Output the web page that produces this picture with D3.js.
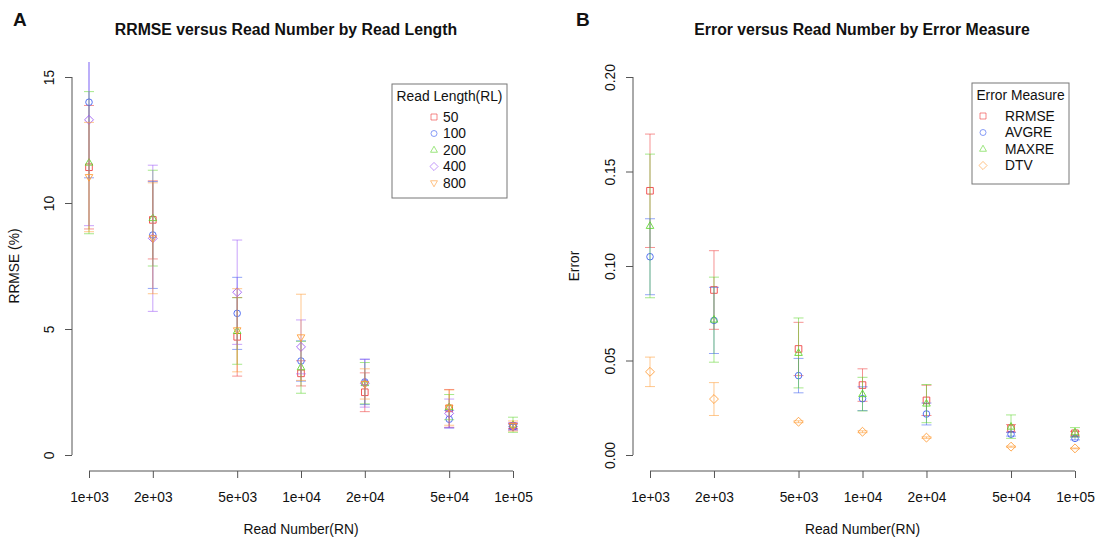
<!DOCTYPE html>
<html lang="en">
<head>
<meta charset="utf-8">
<title>RRMSE and Error versus Read Number</title>
<script src="https://d3js.org/d3.v7.min.js"></script>
<style>
  body { margin: 0; background: #fff; }
  text { font-family: "Liberation Sans", Arial, sans-serif; fill: #111; }
</style>
</head>
<body>
<script>
// x categories shared by both panels
const readNumbers = [1e3, 2e3, 5e3, 1e4, 2e4, 5e4, 1e5];
const xTickLabels = ["1e+03", "2e+03", "5e+03", "1e+04", "2e+04", "5e+04", "1e+05"];

// panel A: RRMSE (%) by read length, mean and sd
const readLengths = ["50", "100", "200", "400", "800"];
const rl50Mean  = [11.42, 9.33, 4.69, 3.24, 2.49, 1.85, 1.15];
const rl50Sd    = [2.45, 1.55, 1.56, 0.50, 0.77, 0.75, 0.10];
const rl100Mean = [14.00, 8.73, 5.62, 3.73, 2.90, 1.42, 1.12];
const rl100Sd   = [3.00, 2.12, 1.43, 0.80, 0.90, 0.35, 0.10];
const rl200Mean = [11.60, 9.40, 4.92, 3.48, 2.85, 1.90, 1.20];
const rl200Sd   = [2.82, 1.90, 1.32, 1.03, 0.82, 0.50, 0.30];
const rl400Mean = [13.30, 8.60, 6.46, 4.29, 2.85, 1.65, 1.13];
const rl400Sd   = [4.20, 2.90, 2.07, 1.07, 0.95, 0.57, 0.15];
const rl800Mean = [11.03, 8.60, 4.95, 4.67, 2.82, 1.88, 1.15];
const rl800Sd   = [2.17, 2.20, 1.65, 1.71, 0.60, 0.70, 0.20];
const yTicksA = [0, 5, 10, 15];

// panel B: error by error measure, mean and sd
const errorMeasures = ["RRMSE", "AVGRE", "MAXRE", "DTV"];
const rrmseMean = [0.1398, 0.0873, 0.0561, 0.0370, 0.0289, 0.0141, 0.0115];
const rrmseSd   = [0.0300, 0.0208, 0.0141, 0.0086, 0.0080, 0.0020, 0.0010];
const avgreMean = [0.1049, 0.0712, 0.0420, 0.0298, 0.0217, 0.0110, 0.0088];
const avgreSd   = [0.0201, 0.0175, 0.0091, 0.0063, 0.0058, 0.0010, 0.0008];
const maxreMean = [0.1212, 0.0716, 0.0540, 0.0322, 0.0272, 0.0150, 0.0120];
const maxreSd   = [0.0380, 0.0225, 0.0185, 0.0089, 0.0101, 0.0062, 0.0025];
const dtvMean   = [0.0440, 0.0296, 0.0176, 0.0123, 0.0092, 0.0044, 0.0035];
const dtvSd     = [0.0078, 0.0087, 0.0005, 0.0005, 0.0004, 0.0003, 0.0002];
const yTicksB = [0, 0.05, 0.10, 0.15, 0.20];

const colors = ["#ee3b3b", "#3a5cf0", "#5cd62c", "#9a55f5", "#ff9a33"];

// R-like plotting symbols (pch 0,1,2,5,6)
const shapes = {
  square: s => `M${-s},${-s}H${s}V${s}H${-s}Z`,
  circle: s => `M${s},0A${s},${s} 0 1,1 ${-s},0A${s},${s} 0 1,1 ${s},0`,
  triUp: s => `M0,${-s * 1.25}L${s * 1.15},${s * 0.75}L${-s * 1.15},${s * 0.75}Z`,
  diamond: s => `M0,${-s * 1.35}L${s * 1.35},0L0,${s * 1.35}L${-s * 1.35},0Z`,
  triDown: s => `M0,${s * 1.25}L${s * 1.15},${-s * 0.75}L${-s * 1.15},${-s * 0.75}Z`
};
const shapeOrder = ["square", "circle", "triUp", "diamond", "triDown"];

const fs = 13.8; // axis / legend text size

const svg = d3.select("body").append("svg")
  .attr("width", 1099).attr("height", 544);

function drawPanel(p) {
  const x = d3.scaleLog().domain([1e3, 1e5]).range(p.xRange);
  const y = d3.scaleLinear().domain(p.yDomain).range([455, 77]);
  const g = svg.append("g");

  // plot region clip (R usr extends 4%)
  const clipId = "clip" + p.id;
  g.append("clipPath").attr("id", clipId).append("rect")
    .attr("x", p.xRange[0] - 17).attr("y", 62)
    .attr("width", p.xRange[1] - p.xRange[0] + 34).attr("height", 408);

  // y axis, labels parallel to the axis as in R
  const yAxis = g.append("g").attr("transform", `translate(${p.xRange[0] - 17},0)`)
    .call(d3.axisLeft(y).tickValues(p.yTicks).tickSize(7).tickFormat(p.yFormat));
  yAxis.select(".domain").attr("d", `M0,${y(p.yDomain[0])}V${y(p.yDomain[1])}`);
  yAxis.selectAll("line, .domain").attr("stroke", "#555");
  yAxis.selectAll("text")
    .attr("font-size", fs).attr("fill", "#111")
    .attr("transform", "rotate(-90)")
    .attr("x", 0).attr("y", -18).attr("dy", 0).attr("text-anchor", "middle");

  // x axis
  const xAxis = g.append("g").attr("transform", "translate(0,471)")
    .call(d3.axisBottom(x).tickValues(readNumbers).tickSize(7)
      .tickFormat((d, i) => xTickLabels[i]));
  xAxis.select(".domain").attr("d", `M${x(1e3)},0H${x(1e5)}`);
  xAxis.selectAll("line, .domain").attr("stroke", "#555");
  xAxis.selectAll("text").attr("font-size", fs).attr("fill", "#111").attr("dy", "1.5em");

  // titles
  g.append("text").attr("x", p.titleX).attr("y", 35).attr("text-anchor", "middle")
    .attr("font-size", 15.8).attr("font-weight", "bold").text(p.title);
  g.append("text").attr("x", p.letterX).attr("y", 26).attr("font-size", 19)
    .attr("font-weight", "bold").text(p.letter);
  g.append("text").attr("x", (x(1e3) + x(1e5)) / 2).attr("y", 534).attr("text-anchor", "middle")
    .attr("font-size", fs).text("Read Number(RN)");
  g.append("text").attr("transform", `translate(${p.yTitleX},266) rotate(-90)`)
    .attr("text-anchor", "middle").attr("font-size", fs).text(p.yTitle);

  // error bars and points
  const marks = g.append("g").attr("clip-path", `url(#${clipId})`);
  p.series.forEach(s => {
    const rows = readNumbers.map((rn, i) => ({ rn, m: s.mean[i], sd: s.sd[i] }));
    const sg = marks.append("g").attr("stroke", colors[s.color]).attr("fill", "none");
    const bars = sg.selectAll("g.bar").data(rows).join("g").attr("class", "bar")
      .attr("stroke-opacity", 0.55);
    bars.append("line")
      .attr("x1", d => x(d.rn)).attr("x2", d => x(d.rn))
      .attr("y1", d => y(d.m - d.sd)).attr("y2", d => y(d.m + d.sd));
    [-1, 1].forEach(sign => {
      bars.append("line")
        .attr("x1", d => x(d.rn) - 5).attr("x2", d => x(d.rn) + 5)
        .attr("y1", d => y(d.m + sign * d.sd)).attr("y2", d => y(d.m + sign * d.sd));
    });
    sg.selectAll("path").data(rows).join("path")
      .attr("d", shapes[shapeOrder[s.shape]](3.3))
      .attr("transform", d => `translate(${x(d.rn)},${y(d.m)})`)
      .attr("stroke-opacity", 0.85).attr("stroke-width", 1);
  });

  // legend
  const lg = g.append("g").attr("transform", `translate(${p.legend.x},${p.legend.y})`);
  lg.append("rect").attr("width", p.legend.w).attr("height", p.legend.h)
    .attr("fill", "#fff").attr("stroke", "#777");
  lg.append("text").attr("x", p.legend.w / 2).attr("y", 17).attr("text-anchor", "middle")
    .attr("font-size", fs).text(p.legend.title);
  p.series.forEach((s, k) => {
    const row = lg.append("g").attr("transform", `translate(0,${33 + k * 16.5})`);
    row.append("path").attr("d", shapes[shapeOrder[s.shape]](3))
      .attr("transform", `translate(${p.legend.sx},0)`)
      .attr("fill", "none").attr("stroke", colors[s.color]).attr("stroke-opacity", 0.6);
    row.append("text").attr("x", p.legend.tx).attr("dy", "0.36em")
      .attr("font-size", fs).text(s.name);
  });
}

drawPanel({
  id: "A", letter: "A", letterX: 13,
  title: "RRMSE versus Read Number by Read Length", titleX: 286,
  xRange: [89, 513], yDomain: [0, 15], yTicks: yTicksA, yFormat: d3.format("d"),
  yTitle: "RRMSE (%)", yTitleX: 19,
  series: [
    { name: readLengths[0], mean: rl50Mean, sd: rl50Sd, color: 0, shape: 0 },
    { name: readLengths[1], mean: rl100Mean, sd: rl100Sd, color: 1, shape: 1 },
    { name: readLengths[2], mean: rl200Mean, sd: rl200Sd, color: 2, shape: 2 },
    { name: readLengths[3], mean: rl400Mean, sd: rl400Sd, color: 3, shape: 3 },
    { name: readLengths[4], mean: rl800Mean, sd: rl800Sd, color: 4, shape: 4 }
  ],
  legend: { x: 392, y: 84, w: 115, h: 114, title: "Read Length(RL)", sx: 42, tx: 51 }
});

drawPanel({
  id: "B", letter: "B", letterX: 576,
  title: "Error versus Read Number by Error Measure", titleX: 862,
  xRange: [650, 1075], yDomain: [0, 0.20], yTicks: yTicksB, yFormat: d3.format(".2f"),
  yTitle: "Error", yTitleX: 579,
  series: [
    { name: errorMeasures[0], mean: rrmseMean, sd: rrmseSd, color: 0, shape: 0 },
    { name: errorMeasures[1], mean: avgreMean, sd: avgreSd, color: 1, shape: 1 },
    { name: errorMeasures[2], mean: maxreMean, sd: maxreSd, color: 2, shape: 2 },
    { name: errorMeasures[3], mean: dtvMean, sd: dtvSd, color: 4, shape: 3 }
  ],
  legend: { x: 972, y: 83, w: 97, h: 101, title: "Error Measure", sx: 11, tx: 33 }
});
</script>
</body>
</html>
